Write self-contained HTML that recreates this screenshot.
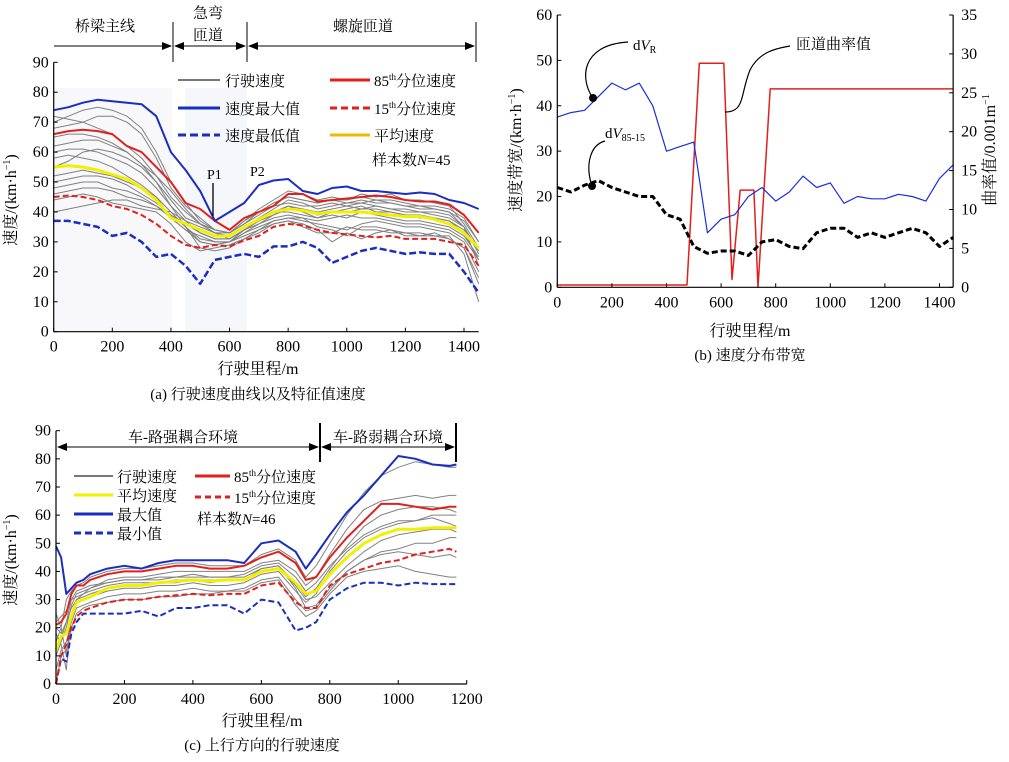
<!DOCTYPE html>
<html><head><meta charset="utf-8">
<style>
html,body{margin:0;padding:0;background:#fff;}
svg{display:block;font-family:"Liberation Serif","Noto Serif CJK SC",serif;}
</style></head>
<body>
<svg id="fig" width="1009" height="762" viewBox="0 0 1009 762" xmlns="http://www.w3.org/2000/svg">
<defs>
<marker id="ah" markerWidth="10" markerHeight="8" refX="9" refY="4" orient="auto" markerUnits="userSpaceOnUse"><path d="M0,0 L10,4 L0,8 z" fill="#000"/></marker>
<marker id="ahs" markerWidth="10" markerHeight="8" refX="1" refY="4" orient="auto" markerUnits="userSpaceOnUse"><path d="M10,0 L0,4 L10,8 z" fill="#000"/></marker>
</defs>
<rect x="54" y="88" width="118" height="243" fill="#f8f8fa"/>
<rect x="185" y="88" width="62" height="243" fill="#f6f7fb"/>
<g id="ga"></g><g id="gb"></g><g id="gc"></g>
<g font-size="15">
<line x1="54" y1="46" x2="171" y2="46" stroke="#000" marker-end="url(#ah)"/>
<line x1="175" y1="46" x2="245" y2="46" stroke="#000" marker-start="url(#ahs)" marker-end="url(#ah)"/>
<line x1="249" y1="46" x2="474" y2="46" stroke="#000" marker-start="url(#ahs)" marker-end="url(#ah)"/>
<line x1="173" y1="22" x2="173" y2="62" stroke="#000"/>
<line x1="247" y1="22" x2="247" y2="62" stroke="#000"/>
<line x1="476" y1="22" x2="476" y2="62" stroke="#000"/>
<text x="105" y="31" text-anchor="middle">桥梁主线</text>
<text x="208" y="18" text-anchor="middle">急弯</text>
<text x="208" y="40" text-anchor="middle">匝道</text>
<text x="363" y="31" text-anchor="middle">螺旋匝道</text>
<text x="207" y="179" font-size="14">P1</text>
<line x1="213" y1="183" x2="213" y2="216" stroke="#000" stroke-width="1.3"/>
<text x="250" y="176" font-size="14">P2</text>
</g>
<g font-size="15">
<line x1="178" y1="80" x2="220" y2="80" stroke="#777" stroke-width="2"/><text x="225" y="86">行驶速度</text>
<line x1="178" y1="108" x2="220" y2="108" stroke="#1a2ec0" stroke-width="3"/><text x="225" y="114">速度最大值</text>
<line x1="178" y1="135" x2="220" y2="135" stroke="#1a2ec0" stroke-width="3" stroke-dasharray="8,4"/><text x="225" y="141">速度最低值</text>
<line x1="330" y1="80" x2="370" y2="80" stroke="#e0201c" stroke-width="3"/><text x="374" y="86">85<tspan font-size="9" dy="-6">th</tspan><tspan dy="6">分位速度</tspan></text>
<line x1="330" y1="108" x2="370" y2="108" stroke="#e0201c" stroke-width="3" stroke-dasharray="7,4"/><text x="374" y="114">15<tspan font-size="9" dy="-6">th</tspan><tspan dy="6">分位速度</tspan></text>
<line x1="330" y1="135" x2="370" y2="135" stroke="#f5b800" stroke-width="3"/><text x="374" y="141">平均速度</text>
<text x="372" y="165">样本数<tspan font-style="italic">N</tspan>=45</text>
</g>
<g font-size="15" fill="none" stroke="#000">
<path d="M593,98 C580,80 580,45 628,42" stroke-width="1.2"/>
<path d="M592,186 C585,165 590,145 605,141" stroke-width="1.2"/>
<path d="M725,112 C745,112 740,95 750,70 C760,50 780,48 790,46" stroke-width="1.2"/>
<circle cx="593" cy="98" r="3.5" fill="#000"/>
<circle cx="592" cy="186" r="3.5" fill="#000"/>
</g>
<text x="633" y="50" font-size="15">d<tspan font-style="italic">V</tspan><tspan font-size="10" dy="3">R</tspan></text>
<text x="605" y="138" font-size="15">d<tspan font-style="italic">V</tspan><tspan font-size="10" dy="3">85-15</tspan></text>
<text x="796" y="49" font-size="15">匝道曲率值</text>
<g font-size="15">
<line x1="58" y1="447" x2="318" y2="447" stroke="#000" marker-start="url(#ahs)" marker-end="url(#ah)"/>
<line x1="322" y1="447" x2="454" y2="447" stroke="#000" marker-start="url(#ahs)" marker-end="url(#ah)"/>
<line x1="320" y1="423" x2="320" y2="462" stroke="#000" stroke-width="2"/>
<line x1="456" y1="423" x2="456" y2="462" stroke="#000" stroke-width="2"/>
<text x="183" y="442" text-anchor="middle">车-路强耦合环境</text>
<text x="388" y="442" text-anchor="middle">车-路弱耦合环境</text>
</g>
<g font-size="15">
<line x1="74" y1="476" x2="113" y2="476" stroke="#777" stroke-width="2"/><text x="117" y="482">行驶速度</text>
<line x1="74" y1="495" x2="113" y2="495" stroke="#f0f000" stroke-width="3"/><text x="117" y="501">平均速度</text>
<line x1="74" y1="514" x2="113" y2="514" stroke="#1a2ec0" stroke-width="3"/><text x="117" y="520">最大值</text>
<line x1="74" y1="533" x2="113" y2="533" stroke="#1a2ec0" stroke-width="3" stroke-dasharray="7,4"/><text x="117" y="539">最小值</text>
<line x1="195" y1="476" x2="230" y2="476" stroke="#e0201c" stroke-width="3"/><text x="234" y="482">85<tspan font-size="9" dy="-6">th</tspan><tspan dy="6">分位速度</tspan></text>
<line x1="195" y1="497" x2="230" y2="497" stroke="#e0201c" stroke-width="3" stroke-dasharray="6,4"/><text x="234" y="503">15<tspan font-size="9" dy="-6">th</tspan><tspan dy="6">分位速度</tspan></text>
<text x="197" y="524">样本数<tspan font-style="italic">N</tspan>=46</text>
</g>
</svg>
<script>
const distA=[0,50,100,150,200,250,300,350,400,450,500,550,600,650,700,750,800,850,900,950,1000,1050,1100,1150,1200,1250,1300,1350,1400,1450];
const maxA=[74,75,76.5,77.5,77,76.5,76,72,60,54,47,37,40,43,49,50.5,51,47,46,48,48.5,47,47,46.5,46,46.5,46,44,43,41];
const p85A=[66,67,67.5,67,66,62,60,55,50,43,41,37,34,38,40,42,46,46,43.5,44,44.5,45,45.5,45,44,43.5,43.5,42.5,39,33];
const meanA=[55,55.5,55,54,52.5,51,48,44,38,36,34,32,32,35,37.5,40,41,40.5,39.5,40,40,40,39.5,39,38.5,38.5,37.5,36,33,28];
const p15A=[45,45.5,45,44,42,41,39,36,32,29,28,29,28.5,30.5,32,35,36,35.5,34,33,32.5,32,31.5,32,31,31,31,30,29,22];
const minA=[37,37,36,35,32,33,30,25,26,22,16,24,25,26,25,28.5,28.5,30,28,23,25,27,28,27,26,26.5,26,26,20,13];
const grayA=[
[72,71,70,68,66,62,58,52,45,40,36,33,33,36,40,43,45,44,43,44,44,45,44,44,43,42,42,41,38,30],
[62,63,64,64,62,60,56,50,44,38,36,33,32,35,38,41,44,43,41,42,43,43,42,41,41,40,40,39,35,26],
[52,53,54,53,52,50,48,45,40,37,35,33,31,34,37,40,40,39,38,39,38,40,39,38,37,37,36,35,32,25],
[48,49,50,50,48,47,45,42,38,34,32,30,30,33,35,37,38,37,36,35,34,36,37,36,35,35,34,33,30,20],
[58,59,58,57,55,52,49,45,38,34,30,29,30,33,36,39,42,40,38,40,41,42,40,40,39,38,38,37,34,27],
[44,45,46,45,43,42,41,40,36,30,27,28,29,31,33,36,37,36,34,30,33,31,33,34,32,32,33,31,28,18],
[68,69,70,72,72,70,66,58,48,42,38,34,33,37,41,44,47,46,44,45,44,46,45,46,44,44,43,42,36,28],
[55,57,60,61,60,58,55,50,42,35,30,29,30,34,37,39,41,41,40,41,42,41,42,41,40,40,39,38,35,22],
[40,41,42,43,44,44,42,41,40,35,28,27,28,31,34,37,38,38,35,34,32,35,35,34,33,33,32,32,26,10],
[65,66,66,65,63,60,56,52,47,41,36,34,33,36,39,42,43,42,42,43,42,43,44,43,42,41,41,40,37,30],
[50,51,52,52,51,49,46,43,39,36,33,31,31,34,36,38,39,38,37,38,39,38,38,37,36,36,35,34,31,24],
[70,72,74,75,74,72,68,60,50,43,37,34,33,37,40,43,45,44,43,44,43,44,43,43,42,42,41,40,35,27],
[60,61,61,60,58,56,53,48,42,37,33,31,31,34,37,40,42,41,39,40,40,41,41,40,39,39,38,37,33,24],
[46,47,48,48,47,45,44,42,39,35,31,30,30,32,34,36,37,35,33,33,35,34,34,33,33,32,32,31,28,16]];
const ticksXA=[0,200,400,600,800,1000,1200,1400];
const ticksYA=[0,10,20,30,40,50,60,70,80,90];
const distB=[0,50,100,150,200,250,300,350,400,450,500,550,600,650,700,750,800,850,900,950,1000,1050,1100,1150,1200,1250,1300,1350,1400,1450];
const dvR=[37.5,38.5,39,42,45,43.5,45,40,30,31,32,12,15,16,20,22,19,21,24.5,22,23,18.5,20,19.5,19.5,20.5,20,19,24,27];
const dv8515=[22,21,22.5,23.5,22,21,20,20,16,15,9,7.5,8,8,7,10,10.5,9,8.5,12,13,13,11,12,11,12,13,12,9,11];
const curvX=[0,475,520,610,640,670,720,735,780,1450];
const curvY=[0.3,0.3,28.8,28.8,1,12.5,12.5,0,25.5,25.5];
const ticksXB=[0,200,400,600,800,1000,1200,1400];
const ticksYB=[0,10,20,30,40,50,60];
const ticksYB2=[0,5,10,15,20,25,30,35];
const distC=[0,15,30,45,60,80,100,150,200,250,300,350,400,450,500,550,600,650,700,730,760,800,850,900,950,1000,1050,1100,1150,1170];
const maxC=[49,45,32,34,36,37,39,41,42,41,43,44,44,44,44,43,50,51,47,41,46,53,61,67,74,81,80,78,77.5,78];
const p85C=[21,22,25,32,35,35,37,39,40,40,41,42,42,41,41,42,45,47,43,37,38,45,52,58,64,64,63,62,63,63];
const meanC=[12,17,18,24,29,30,31,34,35,35,36,36.5,37,36.5,37,37,40,41,36,32,33,39,45,50,53,55,55,55.5,55.5,55.5];
const p15C=[0,10,14,20,24,26,27,29,30,30,31,31.5,32,31.5,32,32,35,36,29,27,27,35,39,41,43,44,46,47,48,47];
const minC=[0,9,8,18,22,25,25,25,25,26,24,27,27,28,28,25,30,29,19,20,22,30,34,36,36,35,36,35.5,35.5,35.5];
const grayC=[
[15,20,30,33,35,36,38,40,41,41,42,43,43,42,42,42,46,48,44,38,42,50,60,68,74,77,79,78,77,77],
[10,15,20,28,32,33,34,36,37,37,38,38,39,38,38,39,42,43,38,33,36,42,48,53,56,58,58,59,57,56],
[20,18,22,27,30,31,32,34,35,35,36,36,37,36,37,37,40,41,35,30,31,36,42,47,51,53,54,55,55,54],
[5,12,15,22,27,28,29,31,32,32,33,33,34,33,33,34,37,38,30,26,27,33,40,44,47,48,50,50,52,52],
[25,20,10,25,30,32,34,37,38,38,39,40,40,40,40,40,43,44,40,35,38,46,55,62,65,66,67,66,67,67],
[0,10,12,20,25,27,28,29,30,30,31,31,32,32,33,33,36,37,28,24,26,32,38,40,41,42,40,39,38,38],
[18,14,5,24,29,30,31,33,34,34,35,35,36,35,35,36,39,40,33,29,32,40,47,52,55,57,58,60,60,60],
[12,16,22,30,33,34,35,36,37,37,37,38,38,38,38,38,41,42,36,31,34,41,49,56,60,62,63,63,62,61],
[22,24,26,30,31,32,33,35,36,36,36,37,37,37,37,37,41,42,34,27,28,34,40,44,46,47,46,45,46,45]];
const ticksXC=[0,200,400,600,800,1000,1200];
const ticksYC=[0,10,20,30,40,50,60,70,80,90];

const NS="http://www.w3.org/2000/svg";
function mk(parent,tag,attrs,txt){const e=document.createElementNS(NS,tag);for(const k in attrs)e.setAttribute(k,attrs[k]);if(txt!==undefined)e.textContent=txt;parent.appendChild(e);return e;}
function lin(d0,d1,r0,r1){return v=>r0+(v-d0)/(d1-d0)*(r1-r0);}
function pathOf(xs,ys,sx,sy){return xs.map((x,i)=>(i?'L':'M')+sx(x).toFixed(1)+','+sy(ys[i]).toFixed(1)).join(' ');}
function series(g,xs,ys,sx,sy,stroke,w,dash,name){
  const p=mk(g,'path',{d:pathOf(xs,ys,sx,sy),fill:'none',stroke:stroke,'stroke-width':w,'stroke-linejoin':'round'});
  if(dash)p.setAttribute('stroke-dasharray',dash);
  
  
  return p;
}
function axes(g,sx,sy,xt,yt,x0,x1,y0,y1){
  const ax=mk(g,'line',{x1:sx(x0),y1:sy(y0),x2:sx(x1),y2:sy(y0),stroke:'#000','stroke-width':1.2});
  
  
  const ay=mk(g,'line',{x1:sx(x0),y1:sy(y0),x2:sx(x0),y2:sy(y1),stroke:'#000','stroke-width':1.2});
  
  
  xt.forEach(t=>{mk(g,'line',{x1:sx(t),y1:sy(y0),x2:sx(t),y2:sy(y0)-4,stroke:'#000'});
    const tx=mk(g,'text',{x:sx(t),y:sy(y0)+20,'text-anchor':'middle','font-size':16},String(t));
    
    });
  yt.forEach(t=>{mk(g,'line',{x1:sx(x0),y1:sy(t),x2:sx(x0)+4,y2:sy(t),stroke:'#000'});
    const ty=mk(g,'text',{x:sx(x0)-5,y:sy(t)+5,'text-anchor':'end','font-size':16},String(t));
    
    });
}
function label(g,x,y,txt,rot,name,size){
  const t=mk(g,'text',{x:x,y:y,'text-anchor':'middle','font-size':size||16});
  t.innerHTML=txt;
  if(rot)t.setAttribute('transform','rotate('+rot+' '+x+' '+y+')');
  
  
}
(function(){
 const g=document.getElementById('ga');
 const sx=lin(0,1400,53.7,464), sy=lin(0,90,331.7,62.3);
 grayA.forEach(s=>series(g,distA,s,sx,sy,'#808080',1,null,'speed-trace-a'));
 series(g,distA,minA,sx,sy,'#1a2ec0',2.5,'7,3','min-speed-a');
 series(g,distA,p15A,sx,sy,'#e0201c',2,'6,3','p15-speed-a');
 series(g,distA,meanA,sx,sy,'#f0f000',3,null,'mean-speed-a');
 series(g,distA,p85A,sx,sy,'#e0201c',2,null,'p85-speed-a');
 series(g,distA,maxA,sx,sy,'#1a2ec0',2,null,'max-speed-a');
 axes(g,sx,sy,ticksXA,ticksYA,0,1450,0,90);
 label(g,16,200,'速度/(km·h<tspan font-size="10" dy="-6">−1</tspan><tspan dy="6">)</tspan>',-90,'y-axis-title-a');
 label(g,258,374,'行驶里程/m',0,'x-axis-title-a');
 label(g,258,399,'(a) 行驶速度曲线以及特征值速度',0,'caption-a',15);
})();
(function(){
 const g=document.getElementById('gb');
 const sx=lin(0,1400,557.3,939.5), sy=lin(0,60,287.3,15), sy2=lin(0,35,287.3,15);
 series(g,curvX,curvY,sx,sy2,'#e0201c',1.5,null,'curvature-line');
 series(g,distB,dvR,sx,sy,'#1a2ee0',1.2,null,'dvr-line');
 series(g,distB,dv8515,sx,sy,'#000',3,'6,3','dv85-15-line');
 axes(g,sx,sy,ticksXB,ticksYB,0,1450,0,60);
 const ar=mk(g,'line',{x1:sx(1450),y1:sy(0),x2:sx(1450),y2:sy(60),stroke:'#000','stroke-width':1.2});
 
 
 ticksYB2.forEach(t=>{mk(g,'line',{x1:sx(1450),y1:sy2(t),x2:sx(1450)-4,y2:sy2(t),stroke:'#000'});
   const tt=mk(g,'text',{x:sx(1450)+8,y:sy2(t)+5,'font-size':16},String(t));
   
   });
 label(g,521,150,'速度带宽/(km·h<tspan font-size="10" dy="-6">−1</tspan><tspan dy="6">)</tspan>',-90,'y-axis-title-b');
 label(g,995,150,'曲率值/0.001m<tspan font-size="10" dy="-6">−1</tspan>',-90,'right-axis-title-b');
 label(g,750,336,'行驶里程/m',0,'x-axis-title-b');
 label(g,750,360,'(b) 速度分布带宽',0,'caption-b',15);
})();
(function(){
 const g=document.getElementById('gc');
 const sx=lin(0,1200,56,466.7), sy=lin(0,90,684,430.7);
 grayC.forEach(s=>series(g,distC,s,sx,sy,'#808080',1,null,'speed-trace-c'));
 series(g,distC,minC,sx,sy,'#1a2ec0',2,'6,3','min-speed-c');
 series(g,distC,p15C,sx,sy,'#e0201c',2,'6,3','p15-speed-c');
 series(g,distC,meanC,sx,sy,'#f0f000',3,null,'mean-speed-c');
 series(g,distC,p85C,sx,sy,'#e0201c',2,null,'p85-speed-c');
 series(g,distC,maxC,sx,sy,'#1a2ec0',2,null,'max-speed-c');
 axes(g,sx,sy,ticksXC,ticksYC,0,1200,0,90);
 label(g,16,560,'速度/(km·h<tspan font-size="10" dy="-6">−1</tspan><tspan dy="6">)</tspan>',-90,'y-axis-title-c');
 label(g,262,726,'行驶里程/m',0,'x-axis-title-c');
 label(g,262,750,'(c) 上行方向的行驶速度',0,'caption-c',15);
})();
</script>
</body></html>
